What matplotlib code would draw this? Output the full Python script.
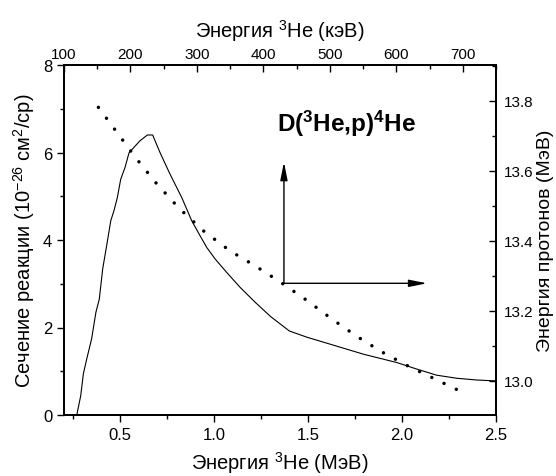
import matplotlib
matplotlib.use("Agg")
import matplotlib.pyplot as plt
from matplotlib.ticker import MultipleLocator

plt.rcParams['font.family'] = ['Liberation Sans', 'DejaVu Sans']
plt.rcParams['mathtext.fontset'] = 'custom'
plt.rcParams['mathtext.rm'] = 'Liberation Sans'
plt.rcParams['mathtext.it'] = 'Liberation Sans:italic'
plt.rcParams['mathtext.bf'] = 'Liberation Sans:bold'

# Cross-section curve (left axis), energy in MeV
cs_energy = [0.268, 0.289, 0.303, 0.321, 0.347, 0.370, 0.388, 0.406, 0.427, 0.449,
             0.466, 0.484, 0.502, 0.525, 0.546, 0.573, 0.605, 0.644, 0.672, 0.711,
             0.764, 0.827, 0.880, 0.924, 0.960, 1.004, 1.066, 1.137, 1.217, 1.300,
             1.400, 1.492, 1.616, 1.794, 1.971, 2.078, 2.184, 2.291, 2.397, 2.495]
cs_value = [0.00, 0.44, 0.94, 1.28, 1.74, 2.35, 2.65, 3.34, 3.87, 4.44,
            4.67, 4.97, 5.39, 5.66, 5.99, 6.12, 6.27, 6.40, 6.40, 6.00,
            5.51, 4.97, 4.44, 4.10, 3.83, 3.57, 3.26, 2.92, 2.58, 2.25,
            1.92, 1.78, 1.62, 1.39, 1.20, 1.05, 0.91, 0.84, 0.80, 0.78]

# Proton energy curve (right axis)
pe_energy = [0.383, 0.484, 0.583, 0.690, 0.812, 0.947, 1.084, 1.221, 1.354, 1.489,
             1.622, 1.758, 1.893, 2.028, 2.163, 2.298]
pe_value = [13.781, 13.708, 13.636, 13.565, 13.493, 13.426, 13.371, 13.327, 13.281, 13.231,
            13.178, 13.127, 13.082, 13.043, 13.008, 12.973]

bottom_ticks = [0.5, 1.0, 1.5, 2.0, 2.5]
top_ticks = [100, 200, 300, 400, 500, 600, 700]
left_ticks = [0, 2, 4, 6, 8]
right_ticks = [13.0, 13.2, 13.4, 13.6, 13.8]

fig = plt.figure(figsize=(5.56, 4.77), dpi=100)
ax = fig.add_axes([64/556, 61/477, 432/556, 350/477])
ax.set_xlim(0.2, 2.5)
ax.set_ylim(0, 8)
ax.plot(cs_energy, cs_value, color='black', lw=0.8)

ax2 = ax.twinx()
ax2.set_ylim(12.902, 13.902)
ax2.plot(pe_energy, pe_value, color='black', lw=2.5,
         linestyle=(0, (0.01, 3.9)), dash_capstyle='round')

ax3 = ax.twiny()
ax3.set_xlim(100, 750)

lab_fs = 14.5
tick_fs = 12
ax.set_xticks(bottom_ticks)
ax.set_xticklabels(['%.1f' % v for v in bottom_ticks])
ax.xaxis.set_minor_locator(MultipleLocator(0.25))
ax.set_yticks(left_ticks)
ax.yaxis.set_minor_locator(MultipleLocator(1))
ax.tick_params(which='both', direction='out', labelsize=tick_fs, width=1)
ax.tick_params(which='major', length=5)
ax.tick_params(which='minor', length=3)

ax2.set_yticks(right_ticks)
ax2.set_yticklabels(['%.1f' % v for v in right_ticks])
ax2.yaxis.set_minor_locator(MultipleLocator(0.1))
ax2.tick_params(which='both', direction='in', labelsize=tick_fs - 1, width=1, pad=6)
ax2.tick_params(which='major', length=5)
ax2.tick_params(which='minor', length=3)

ax3.set_xticks(top_ticks)
ax3.xaxis.set_minor_locator(MultipleLocator(50))
ax3.tick_params(which='both', direction='in', labelsize=tick_fs - 1, width=1, pad=3)
ax3.tick_params(which='major', length=5)
ax3.tick_params(which='minor', length=3)

for a in (ax, ax2, ax3):
    for s in a.spines.values():
        s.set_linewidth(1.2)

ax.set_xlabel('Энергия $^3$He (МэВ)', fontsize=lab_fs, labelpad=5)
ax.set_ylabel('Сечение реакции (10$^{-26}$ см$^2$/ср)', fontsize=lab_fs, labelpad=4)
ax2.set_ylabel('Энергия протонов (МэВ)', fontsize=14, labelpad=2)
ax3.set_xlabel('Энергия $^3$He (кэВ)', fontsize=lab_fs, labelpad=7)

ax.text(1.334, 6.67, r'D($^\mathbf{3}$He,p)$^\mathbf{4}$He', fontsize=17.5,
        fontweight='bold', va='center', ha='left')

arrow_origin = (1.371, 3.01)
arrow_up_end = (1.371, 5.78)
arrow_right_end = (2.133, 3.01)
props = dict(arrowstyle='-|>,head_length=0.9,head_width=0.18', color='black',
             lw=1.0, shrinkA=0, shrinkB=0, mutation_scale=12)
ax.annotate('', xy=arrow_up_end, xytext=arrow_origin, arrowprops=props)
ax.annotate('', xy=arrow_right_end, xytext=arrow_origin, arrowprops=props)

fig.savefig('out.png', dpi=100)
